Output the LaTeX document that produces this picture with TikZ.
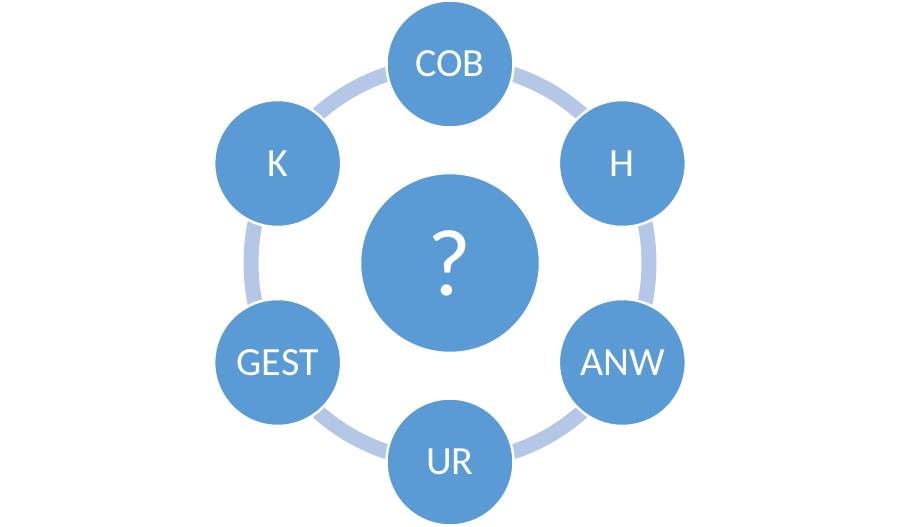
\documentclass[tikz,border=0pt]{standalone}
\usepackage{fontspec}
\setmainfont{Carlito}
\usepackage{tikz}
\usetikzlibrary{positioning,calc}
\definecolor{blob}{HTML}{5B9BD5}
\definecolor{ringblue}{HTML}{B4C7E7}

\begin{document}
\begin{tikzpicture}[x=1pt, y=-1pt, line width=2.5pt,
	bubble/.style={circle, fill=blob, draw=white, text=white, inner sep=0pt, minimum size=127pt, font=\fontsize{40}{40}\selectfont}]
	\useasboundingbox (0,0) rectangle (900,527);
	\coordinate (mid) at (450,263);
	\draw [ringblue, line width=15pt] (mid) circle [radius=199pt];

	\node [bubble, minimum size=180pt, font=\fontsize{95}{95}\selectfont] (quest) at (mid) {?};

	\node [bubble] (cob) at ($(mid)+(90:199pt)$) {COB};
	\node [bubble] (h) at ($(mid)+(30:199pt)$) {H};
	\node [bubble] (anw) at ($(mid)+(-30:199pt)$) {ANW};
	\node [bubble] (ur) at ($(mid)+(-90:199pt)$) {UR};
	\node [bubble] (gest) at ($(mid)+(210:199pt)$) {GEST};
	\node [bubble] (k) at ($(mid)+(150:199pt)$) {K};
\end{tikzpicture}
\end{document}
